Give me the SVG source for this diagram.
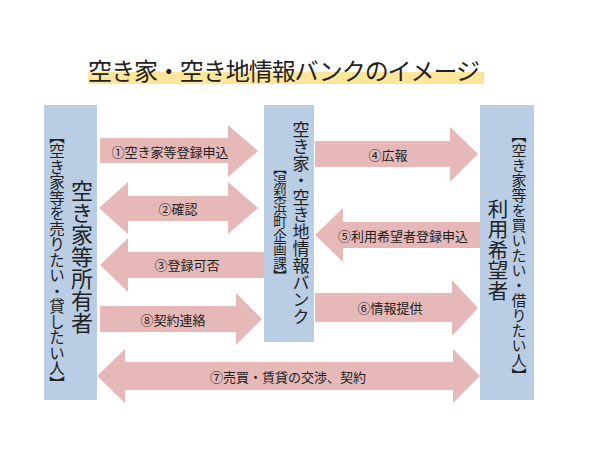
<svg xmlns="http://www.w3.org/2000/svg" width="600" height="450" viewBox="0 0 600 450">
<style>
text{font-family:"Noto Sans CJK JP","Noto Sans",sans-serif;fill:#222}
.arr{fill:#e6b9b8}
.box{fill:#b9cde5}
.lbl{font-size:13px;text-anchor:middle;dominant-baseline:central}
.v{writing-mode:vertical-rl;text-anchor:middle}
</style>
<rect width="600" height="450" fill="#fff"/>
<g id="title">
<rect x="88" y="72" width="396" height="12" fill="#fde599"/>
<text x="88" y="80" font-size="24" textLength="392">空き家・空き地情報バンクのイメージ</text>
</g>
<g id="connectors">
<polygon class="arr" points="100,138 228,138 228,125 258,151 228,177 228,163 100,163"/>
<polygon class="arr" points="99,208 128,182 128,196 228,196 228,182 258,208 228,234 228,221 128,221 128,234"/>
<polygon class="arr" points="100,265 128,238 128,252 264,252 264,278 128,278 128,292"/>
<polygon class="arr" points="100,306 236,306 236,293 262,319 236,345 236,332 100,332"/>
<polygon class="arr" points="315,141 450,141 450,127 478,154 450,182 450,167 315,167"/>
<polygon class="arr" points="315,235 343,208 343,222 480,222 480,248 343,248 343,262"/>
<polygon class="arr" points="315,293 452,293 452,280 478,308 452,336 452,322 315,322"/>
<polygon class="arr" points="97,376 125,349 125,362 453,362 453,349 480,376 453,403 453,390 125,390 125,403"/>
<text class="lbl" x="170" y="151">①空き家等登録申込</text>
<text class="lbl" x="178" y="208">②確認</text>
<text class="lbl" x="187" y="264">③登録可否</text>
<text class="lbl" x="173" y="319">⑧契約連絡</text>
<text class="lbl" x="388" y="154">④広報</text>
<text class="lbl" x="403" y="235">⑤利用希望者登録申込</text>
<text class="lbl" x="390" y="307">⑥情報提供</text>
<text class="lbl" x="288" y="376">⑦売買・賃貸の交渉、契約</text>
</g>
<g id="owner">
<rect class="box" x="44" y="105" width="53" height="295"/>
<text class="v" x="82" y="257" font-size="22">空き家等所有者</text>
<text class="v" x="57" y="260" font-size="15.5">【空き家等を売りたい・貸したい人】</text>
</g>
<g id="bank">
<rect class="box" x="264" y="105" width="50" height="237"/>
<text class="v" x="301" y="223" font-size="17">空き家・空き地情報バンク</text>
<text class="v" x="280" y="222" font-size="13.5">【湯梨浜町企画課】</text>
</g>
<g id="user">
<rect class="box" x="480" y="105" width="54" height="295"/>
<text class="v" x="498" y="250" font-size="20.5">利用希望者</text>
<text class="v" x="519" y="255" font-size="15">【空き家等を買いたい・借りたい人】</text>
</g>
</svg>
